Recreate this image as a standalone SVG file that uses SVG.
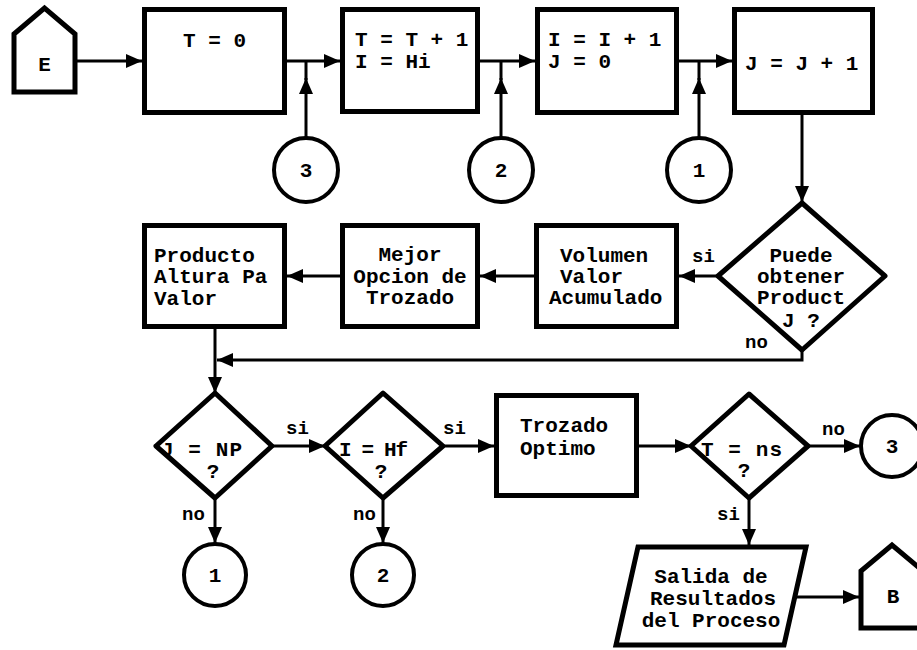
<svg xmlns="http://www.w3.org/2000/svg" width="917" height="650" viewBox="0 0 917 650">
<style>
.bg{fill:#fff}
.box{fill:#fff;stroke:#000;stroke-width:5;stroke-linejoin:miter}
.dia{fill:#fff;stroke:#000;stroke-width:5;stroke-linejoin:round}
.cir{fill:#fff;stroke:#000;stroke-width:4}
.ln{fill:none;stroke:#000;stroke-width:3}
.arr{fill:none;stroke:#000;stroke-width:3;marker-end:url(#ah)}
.t{font-family:"Liberation Mono","DejaVu Sans Mono",monospace;font-weight:bold;font-size:21px;fill:#000}
.c{text-anchor:middle}
.lb{font-family:"Liberation Mono","DejaVu Sans Mono",monospace;font-weight:bold;font-size:19px;fill:#000}
</style>
<defs>
<marker id="ah" viewBox="0 0 16 14" refX="16" refY="7" markerWidth="16" markerHeight="14" markerUnits="userSpaceOnUse" orient="auto">
<path d="M0,0 L16,7 L0,14 z" fill="#000"/>
</marker>
</defs>
<rect class="bg" x="0" y="0" width="917" height="650"/>

<g id="connectors">
<path class="arr" d="M77,61 L142,61"/>
<path class="arr" d="M287,61 L340,61"/>
<path class="arr" d="M480,61 L535,61"/>
<path class="arr" d="M679,61 L732,61"/>
<path class="arr" d="M306,137 L306,78"/>
<path class="ln" d="M306,80 L306,61"/>
<path class="arr" d="M501,137 L501,78"/>
<path class="ln" d="M501,80 L501,61"/>
<path class="arr" d="M699,137 L699,78"/>
<path class="ln" d="M699,80 L699,61"/>
<path class="arr" d="M802,115 L802,202"/>
<path class="arr" d="M718,276 L679,276"/>
<path class="arr" d="M534,276 L480,276"/>
<path class="arr" d="M340,276 L287,276"/>
<path class="arr" d="M802,350 L802,360 L217,360"/>
<path class="arr" d="M215,328 L215,393"/>
<path class="arr" d="M272,446 L325,446"/>
<path class="arr" d="M443,446 L494,446"/>
<path class="arr" d="M639,446 L691,446"/>
<path class="arr" d="M808,446 L860,446"/>
<path class="arr" d="M215,498 L215,543"/>
<path class="arr" d="M383,498 L383,543"/>
<path class="arr" d="M749,498 L749,545"/>
<path class="arr" d="M796,597 L859,597"/>
</g>

<g id="nE">
<path class="box" d="M14,92 L14,34 L44.5,8 L75,34 L75,92 Z"/>
<text class="t c" x="44.5" y="71">E</text>
</g>
<g id="n1">
<rect class="box" x="144.5" y="9.5" width="140" height="103"/>
<text class="t c" x="214.5" y="47">T = 0</text>
</g>
<g id="n2">
<rect class="box" x="342.5" y="9.5" width="135" height="102"/>
<text class="t" x="355" y="46">T = T + 1</text>
<text class="t" x="355" y="68">I = Hi</text>
</g>
<g id="n3">
<rect class="box" x="537.5" y="9.5" width="139" height="103"/>
<text class="t" x="548" y="46">I = I + 1</text>
<text class="t" x="548" y="68">J = 0</text>
</g>
<g id="n4">
<rect class="box" x="734.5" y="9.5" width="138" height="103"/>
<text class="t" x="745" y="70">J = J + 1</text>
</g>
<g id="c3top">
<circle class="cir" cx="306" cy="170" r="32"/>
<text class="t c" x="306" y="177">3</text>
</g>
<g id="c2top">
<circle class="cir" cx="501" cy="170" r="32"/>
<text class="t c" x="501" y="177">2</text>
</g>
<g id="c1top">
<circle class="cir" cx="699" cy="170" r="32"/>
<text class="t c" x="699" y="177">1</text>
</g>
<g id="dPuede">
<path class="dia" d="M802,203 L885,276 L802,350 L718,276 Z"/>
<text class="t c" x="801" y="262">Puede</text>
<text class="t c" x="801" y="283">obtener</text>
<text class="t c" x="801" y="304">Product</text>
<text class="t c" x="801" y="327">J ?</text>
<text class="lb" x="692" y="262">si</text>
<text class="lb" x="745" y="348">no</text>
</g>
<g id="nVolumen">
<rect class="box" x="536.5" y="225.5" width="140" height="101"/>
<text class="t" x="560" y="262">Volumen</text>
<text class="t" x="560" y="283">Valor</text>
<text class="t" x="549" y="304">Acumulado</text>
</g>
<g id="nMejor">
<rect class="box" x="342.5" y="225.5" width="135" height="101"/>
<text class="t c" x="410" y="261">Mejor</text>
<text class="t c" x="410" y="283">Opcion de</text>
<text class="t c" x="410" y="304">Trozado</text>
</g>
<g id="nProducto">
<rect class="box" x="144.5" y="225.5" width="140" height="101"/>
<text class="t" x="154" y="262">Producto</text>
<text class="t" x="154" y="283">Altura Pa</text>
<text class="t" x="154" y="305">Valor</text>
</g>
<g id="dJNP">
<path class="dia" d="M215,393 L272,446 L215,498 L156,446 Z"/>
<text class="t" x="161" y="456" textLength="81" lengthAdjust="spacing">J = NP</text>
<text class="t c" x="213" y="478">?</text>
<text class="lb" x="286" y="434">si</text>
<text class="lb" x="182" y="520">no</text>
</g>
<g id="dIHf">
<path class="dia" d="M383,393 L443,446 L383,498 L325,446 Z"/>
<text class="t" x="339" y="456" textLength="69" lengthAdjust="spacing">I = Hf</text>
<text class="t c" x="381" y="478">?</text>
<text class="lb" x="443" y="434">si</text>
<text class="lb" x="353" y="520">no</text>
</g>
<g id="nTrozado">
<rect class="box" x="496.5" y="395.5" width="140" height="100"/>
<text class="t" x="520" y="432">Trozado</text>
<text class="t" x="520" y="455">Optimo</text>
</g>
<g id="dTns">
<path class="dia" d="M749,394 L808,446 L749,498 L691,446 Z"/>
<text class="t" x="701" y="456" textLength="81" lengthAdjust="spacing">T = ns</text>
<text class="t c" x="744" y="477">?</text>
<text class="lb" x="822" y="435">no</text>
<text class="lb" x="717" y="520">si</text>
</g>
<g id="c3bot">
<circle class="cir" cx="892" cy="446" r="31"/>
<text class="t c" x="892" y="453">3</text>
</g>
<g id="c1bot">
<circle class="cir" cx="215" cy="575" r="31"/>
<text class="t c" x="215" y="582">1</text>
</g>
<g id="c2bot">
<circle class="cir" cx="383" cy="575" r="31"/>
<text class="t c" x="383" y="582">2</text>
</g>
<g id="nSalida">
<path class="box" d="M638,547 L806,547 L784,645 L616,645 Z"/>
<text class="t c" x="711" y="583">Salida de</text>
<text class="t c" x="713" y="605">Resultados</text>
<text class="t c" x="711" y="627">del Proceso</text>
</g>
<g id="nB">
<path class="box" d="M861,628 L861,571 L892,545 L923,571 L923,628 Z"/>
<text class="t c" x="893" y="603">B</text>
</g>
</svg>
